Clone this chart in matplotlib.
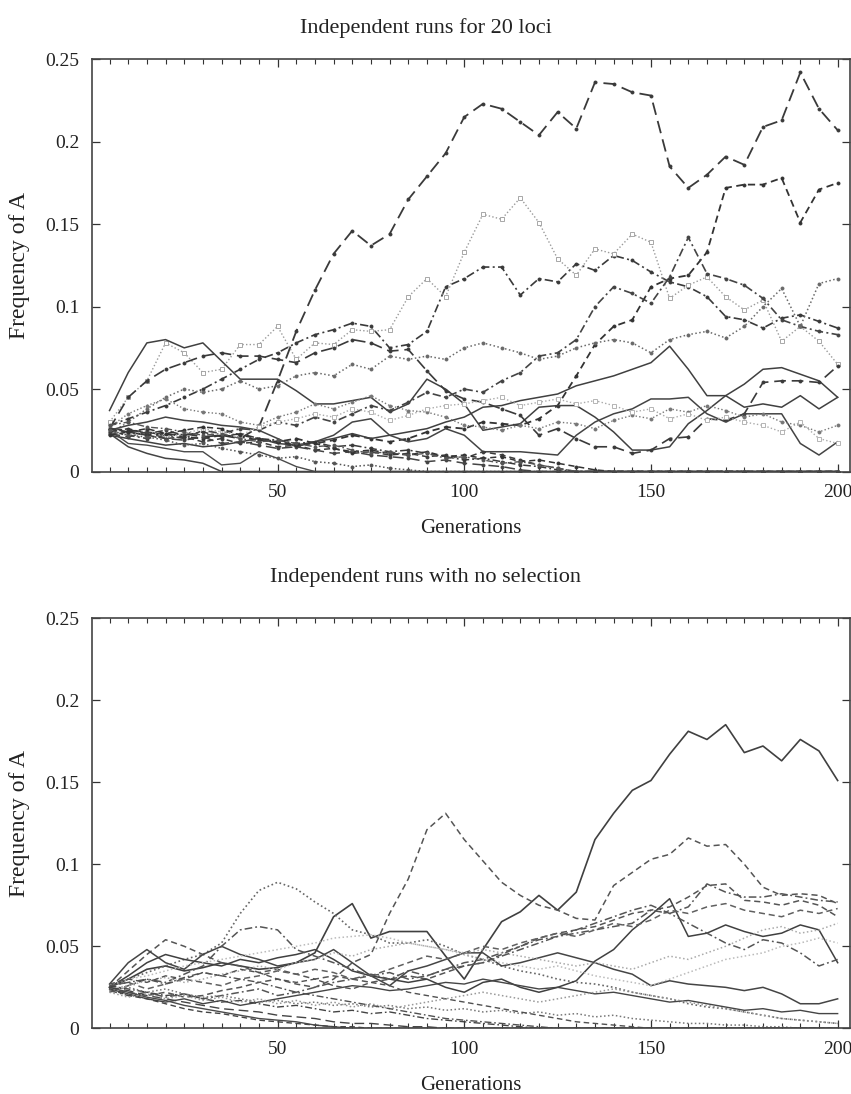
import matplotlib
matplotlib.use("Agg")
import matplotlib.pyplot as plt
from matplotlib.ticker import MultipleLocator, FixedLocator, FixedFormatter

plt.rcParams['font.family'] = ['Liberation Serif', 'DejaVu Serif']

generations = list(range(5, 205, 5))

# ---------------- top panel: Independent runs for 20 loci ----------------
top_A = [.026,.025,.024,.022,.023,.021,.022,.020,.027,.055,.085,.110,.132,.146,.137,.144,.165,.179,.193,.215,
         .223,.220,.212,.204,.218,.208,.236,.235,.230,.228,.185,.172,.180,.191,.186,.209,.213,.242,.220,.207]
top_B = [.025,.024,.022,.023,.021,.020,.022,.021,.019,.018,.020,.017,.019,.022,.020,.018,.020,.024,.027,.026,
         .030,.029,.028,.032,.040,.058,.077,.088,.092,.112,.117,.119,.133,.172,.174,.174,.178,.151,.171,.175]
top_C = [.028,.032,.036,.040,.045,.050,.056,.062,.068,.072,.078,.083,.086,.090,.088,.075,.077,.085,.112,.117,
         .124,.124,.107,.117,.115,.126,.122,.131,.128,.121,.115,.112,.106,.094,.092,.087,.093,.095,.091,.087]
top_D = [.030,.045,.055,.078,.072,.060,.062,.077,.077,.088,.068,.078,.077,.086,.085,.086,.106,.117,.106,.133,
         .156,.153,.166,.151,.129,.119,.135,.132,.144,.139,.105,.113,.118,.106,.098,.104,.079,.088,.079,.065]
top_E = [.037,.060,.078,.080,.075,.078,.067,.056,.056,.056,.049,.041,.041,.043,.045,.036,.041,.056,.050,.041,
         .025,.027,.029,.039,.040,.040,.033,.024,.013,.013,.015,.029,.037,.046,.053,.062,.063,.059,.055,.045]
top_F = [.024,.022,.020,.022,.020,.025,.023,.026,.025,.030,.028,.033,.030,.035,.040,.037,.042,.048,.045,.050,
         .048,.055,.060,.070,.072,.080,.100,.112,.108,.102,.118,.142,.120,.117,.113,.105,.092,.088,.085,.083]
top_G = [.023,.030,.038,.045,.050,.048,.050,.055,.050,.052,.058,.060,.058,.065,.062,.070,.068,.070,.068,.075,
         .078,.075,.072,.068,.070,.075,.078,.080,.078,.072,.080,.083,.085,.081,.088,.100,.111,.088,.114,.117]
top_H = [.026,.045,.055,.062,.066,.070,.072,.070,.070,.068,.066,.072,.075,.080,.078,.073,.074,.061,.049,.044,
         .042,.038,.034,.022,.026,.020,.015,.015,.011,.013,.020,.021,.032,.031,.035,.054,.055,.055,.054,.064]
top_I = [.022,.020,.018,.016,.017,.015,.016,.018,.020,.017,.016,.018,.020,.023,.020,.022,.024,.026,.030,.033,
         .039,.040,.043,.045,.047,.052,.055,.058,.062,.066,.076,.062,.046,.046,.039,.041,.039,.046,.038,.045]
top_J = [.025,.028,.030,.033,.031,.030,.028,.027,.025,.020,.015,.018,.022,.030,.032,.022,.018,.020,.026,.022,
         .012,.012,.012,.011,.010,.022,.030,.035,.038,.044,.044,.045,.035,.030,.035,.035,.035,.017,.010,.018]
top_K = [.023,.015,.011,.008,.007,.005,.000,.000,.000,.000,.000,.000,.000,.000,.000,.000,.000,.000,.000,.000,
         .000,.000,.000,.000,.000,.000,.000,.000,.000,.000,.000,.000,.000,.000,.000,.000,.000,.000,.000,.000]
top_L = [.025,.017,.016,.014,.012,.012,.004,.005,.012,.008,.003,.000,.000,.000,.000,.000,.000,.000,.000,.000,
         .000,.000,.000,.000,.000,.000,.000,.000,.000,.000,.000,.000,.000,.000,.000,.000,.000,.000,.000,.000]
top_M = [.027,.035,.040,.044,.038,.036,.035,.030,.028,.033,.036,.041,.038,.042,.046,.040,.037,.036,.033,.028,
         .027,.025,.028,.026,.030,.029,.026,.031,.034,.032,.038,.036,.040,.037,.033,.035,.030,.028,.024,.028]
top_N = [.024,.022,.025,.021,.023,.026,.024,.022,.027,.030,.032,.035,.033,.038,.036,.031,.034,.038,.040,.041,
         .043,.045,.040,.042,.044,.041,.043,.040,.036,.038,.032,.035,.031,.033,.030,.028,.024,.030,.020,.017]
top_O = [.026,.024,.022,.020,.021,.018,.020,.017,.018,.015,.016,.013,.014,.011,.012,.010,.011,.009,.010,.008,
         .012,.010,.007,.004,.002,.000,.000,.000,.000,.000,.000,.000,.000,.000,.000,.000,.000,.000,.000,.000]
top_P = [.024,.026,.023,.025,.022,.024,.021,.023,.020,.019,.017,.018,.015,.016,.014,.012,.013,.011,.009,.007,
         .008,.006,.004,.003,.001,.000,.000,.000,.000,.000,.000,.000,.000,.000,.000,.000,.000,.000,.000,.000]
top_Q = [.023,.021,.024,.020,.019,.021,.017,.018,.016,.014,.015,.013,.011,.012,.010,.009,.008,.006,.007,.005,
         .004,.003,.001,.000,.000,.000,.000,.000,.000,.000,.000,.000,.000,.000,.000,.000,.000,.000,.000,.000]
top_R = [.025,.022,.021,.019,.016,.017,.014,.012,.010,.008,.009,.006,.005,.003,.004,.002,.001,.000,.000,.000,
         .000,.000,.000,.000,.000,.000,.000,.000,.000,.000,.000,.000,.000,.000,.000,.000,.000,.000,.000,.000]
top_S = [.022,.024,.026,.023,.025,.027,.026,.022,.020,.018,.016,.017,.014,.012,.013,.011,.010,.012,.009,.010,
         .008,.009,.006,.007,.005,.003,.001,.000,.000,.000,.000,.000,.000,.000,.000,.000,.000,.000,.000,.000]
top_T = [.028,.030,.027,.026,.024,.022,.023,.020,.018,.019,.017,.015,.016,.013,.011,.012,.010,.011,.008,.009,
         .007,.005,.006,.004,.002,.000,.000,.000,.000,.000,.000,.000,.000,.000,.000,.000,.000,.000,.000,.000]

# ---------------- bottom panel: Independent runs with no selection ----------------
bot_P = [.025,.030,.036,.038,.035,.037,.040,.038,.036,.037,.040,.046,.068,.076,.055,.059,.059,.059,.044,.030,
         .048,.065,.071,.081,.072,.083,.115,.131,.145,.151,.167,.181,.176,.185,.168,.172,.163,.176,.169,.151]
bot_Q = [.024,.022,.020,.022,.019,.020,.023,.025,.028,.030,.027,.025,.030,.040,.045,.070,.091,.121,.131,.115,
         .102,.089,.081,.075,.072,.067,.066,.087,.095,.103,.106,.116,.111,.112,.100,.086,.081,.082,.081,.076]
bot_R = [.025,.030,.034,.038,.042,.045,.052,.070,.084,.089,.085,.077,.070,.060,.057,.052,.052,.054,.050,.045,
         .042,.038,.035,.033,.030,.028,.027,.025,.022,.020,.018,.015,.013,.012,.010,.008,.006,.005,.004,.003]
bot_S = [.025,.035,.045,.054,.050,.045,.040,.038,.034,.036,.033,.030,.032,.030,.028,.030,.032,.030,.034,.038,
         .040,.045,.050,.055,.058,.060,.062,.066,.070,.072,.074,.080,.087,.088,.078,.077,.075,.078,.075,.068]
bot_U = [.025,.032,.040,.045,.042,.040,.038,.042,.040,.043,.045,.048,.042,.035,.032,.030,.028,.030,.025,.022,
         .028,.030,.025,.022,.025,.029,.041,.048,.060,.069,.079,.056,.058,.063,.059,.056,.058,.063,.060,.040]
bot_V = [.027,.040,.048,.040,.036,.045,.050,.045,.042,.038,.040,.042,.048,.040,.032,.026,.035,.038,.042,.046,
         .046,.038,.040,.043,.046,.043,.040,.036,.033,.026,.029,.027,.026,.025,.023,.025,.021,.015,.015,.018]
bot_W = [.022,.026,.030,.028,.033,.038,.050,.060,.062,.060,.048,.044,.040,.036,.032,.034,.030,.032,.036,.040,
         .042,.046,.050,.054,.056,.058,.060,.062,.064,.072,.070,.074,.088,.083,.080,.080,.082,.080,.078,.077]
bot_X = [.026,.028,.024,.027,.030,.028,.026,.030,.032,.035,.033,.036,.034,.030,.032,.036,.040,.044,.042,.046,
         .050,.048,.052,.055,.058,.056,.060,.064,.062,.066,.072,.070,.074,.076,.072,.070,.068,.072,.070,.073]
bot_Y = [.024,.026,.029,.031,.028,.030,.033,.035,.038,.036,.040,.042,.046,.044,.048,.050,.052,.050,.048,.046,
         .048,.046,.044,.042,.040,.038,.040,.038,.036,.040,.044,.042,.046,.050,.055,.060,.062,.058,.060,.064]
bot_Z = [.023,.020,.022,.019,.021,.018,.020,.022,.024,.020,.022,.025,.028,.030,.033,.030,.035,.032,.036,.038,
         .040,.044,.048,.052,.056,.060,.064,.068,.072,.075,.070,.064,.058,.052,.048,.054,.052,.046,.038,.042]
bot_AA = [.026,.030,.032,.035,.038,.040,.042,.044,.046,.048,.050,.052,.055,.056,.057,.055,.052,.050,.048,.045,
          .042,.040,.038,.036,.038,.035,.032,.030,.028,.026,.030,.034,.038,.042,.044,.046,.050,.052,.055,.052]
bot_AB = [.024,.021,.018,.016,.018,.015,.017,.014,.016,.018,.020,.022,.024,.026,.025,.023,.024,.026,.028,.027,
          .030,.028,.026,.024,.025,.023,.021,.022,.020,.018,.016,.017,.015,.013,.011,.012,.010,.011,.009,.009]
bot_AC = [.025,.022,.019,.017,.014,.012,.010,.008,.006,.005,.004,.002,.001,.000,.000,.000,.000,.000,.000,.000,
          .000,.000,.000,.000,.000,.000,.000,.000,.000,.000,.000,.000,.000,.000,.000,.000,.000,.000,.000,.000]
bot_AD = [.024,.020,.018,.015,.012,.010,.009,.007,.005,.004,.003,.002,.001,.001,.000,.000,.000,.000,.000,.000,
          .000,.000,.000,.000,.000,.000,.000,.000,.000,.000,.000,.000,.000,.000,.000,.000,.000,.000,.000,.000]
bot_AE = [.026,.024,.022,.020,.021,.018,.016,.017,.015,.013,.014,.012,.010,.011,.009,.010,.008,.006,.005,.004,
          .003,.002,.001,.000,.000,.000,.000,.000,.000,.000,.000,.000,.000,.000,.000,.000,.000,.000,.000,.000]
bot_AF = [.023,.025,.022,.024,.021,.019,.020,.018,.016,.017,.015,.016,.014,.015,.013,.014,.012,.013,.011,.012,
          .010,.011,.009,.010,.008,.009,.007,.008,.006,.005,.004,.003,.003,.002,.002,.001,.001,.000,.000,.000]
bot_AG = [.025,.023,.020,.018,.016,.014,.012,.011,.010,.008,.007,.006,.004,.003,.003,.002,.001,.001,.000,.000,
          .000,.000,.000,.000,.000,.000,.000,.000,.000,.000,.000,.000,.000,.000,.000,.000,.000,.000,.000,.000]
bot_AH = [.027,.030,.028,.032,.030,.034,.032,.036,.034,.030,.028,.030,.026,.024,.028,.026,.022,.020,.018,.016,
          .014,.012,.010,.008,.006,.004,.003,.002,.001,.000,.000,.000,.000,.000,.000,.000,.000,.000,.000,.000]
bot_AI = [.022,.019,.021,.018,.020,.017,.019,.016,.018,.015,.017,.014,.016,.013,.015,.012,.014,.016,.018,.020,
          .022,.020,.018,.016,.018,.020,.022,.024,.022,.020,.018,.016,.014,.012,.010,.008,.006,.005,.004,.003]
bot_AJ = [.026,.028,.030,.027,.031,.034,.032,.030,.028,.025,.022,.020,.018,.016,.014,.012,.010,.008,.006,.005,
          .004,.003,.002,.001,.000,.000,.000,.000,.000,.000,.000,.000,.000,.000,.000,.000,.000,.000,.000,.000]

top_series = [top_A, top_B, top_C, top_D, top_E, top_F, top_G, top_H, top_I, top_J,
              top_K, top_L, top_M, top_N, top_O, top_P, top_Q, top_R, top_S, top_T]
bot_series = [bot_P, bot_Q, bot_R, bot_S, bot_U, bot_V, bot_W, bot_X, bot_Y, bot_Z,
              bot_AA, bot_AB, bot_AC, bot_AD, bot_AE, bot_AF, bot_AG, bot_AH, bot_AI, bot_AJ]

panel_titles = ["Independent runs for 20 loci", "Independent runs with no selection"]
x_label = "Generations"
y_label = "Frequency of A"
x_ticks = [50, 100, 150, 200]
y_ticks = [0, 0.05, 0.1, 0.15, 0.2, 0.25]
y_ticklabels = ["0", "0.05", "0.1", "0.15", "0.2", "0.25"]

# style cycles
LONG = (0, (7, 3.5))
DASH = (0, (4, 2.5))
DADOT = (0, (5, 2, 1.2, 2))
DOT = (0, (1, 1.6))
top_styles = [
    (LONG, '#3a3a3a', 'o', 1.3), (DASH, '#333333', 'o', 1.3), (DADOT, '#3a3a3a', 'o', 1.2),
    (DOT, '#9a9a9a', 's', 1.0), ('-', '#404040', None, 1.1), (DADOT, '#444444', 'o', 1.2),
    (DOT, '#6a6a6a', 'o', 1.1), (LONG, '#3a3a3a', 'o', 1.2), ('-', '#404040', None, 1.1),
    ('-', '#444444', None, 1.1), ('-', '#444444', None, 1.1), ('-', '#4a4a4a', None, 1.0),
    (DOT, '#777777', 'o', 1.0), (DOT, '#aaaaaa', 's', 1.0), (DASH, '#3c3c3c', 'o', 1.1),
    (DADOT, '#3a3a3a', 'o', 1.1), (LONG, '#444444', 'o', 1.1), (DOT, '#555555', 'o', 1.1),
    (DASH, '#333333', 'o', 1.1), (DADOT, '#555555', 'o', 1.0)]
bot_styles = [
    ('-', '#404040', None, 1.2), (DASH, '#555555', None, 1.1), (DOT, '#666666', None, 1.2),
    (DASH, '#555555', None, 1.1), ('-', '#404040', None, 1.1), ('-', '#454545', None, 1.1),
    (DADOT, '#555555', None, 1.1), (DASH, '#606060', None, 1.1), (DOT, '#aaaaaa', None, 1.1),
    (DADOT, '#555555', None, 1.1), (DOT, '#bbbbbb', None, 1.1), ('-', '#454545', None, 1.0),
    ('-', '#4a4a4a', None, 1.0), (DASH, '#444444', None, 1.0), (DADOT, '#444444', None, 1.0),
    (DOT, '#777777', None, 1.1), (LONG, '#444444', None, 1.0), (DASH, '#505050', None, 1.0),
    (DOT, '#999999', None, 1.1), (DADOT, '#505050', None, 1.0)]

fig = plt.figure(figsize=(8.51, 10.94), dpi=100)
ax_top = fig.add_axes([0.1081, 0.5690, 0.8907, 0.3768])
ax_bot = fig.add_axes([0.1081, 0.0600, 0.8907, 0.3751])

def draw(ax, series, styles):
    for vals, (ls, col, mk, lw) in zip(series, styles):
        kw = {}
        if mk is not None:
            kw = dict(marker=mk, markersize=2.2, markerfacecolor=col if mk == 'o' else 'white',
                      markeredgecolor=col, markeredgewidth=0.6)
        ax.plot(generations, vals, linestyle=ls, color=col, linewidth=lw, **kw)
    ax.set_xlim(0.3, 203.3)
    ax.set_ylim(0, 0.25)
    ax.xaxis.set_major_locator(FixedLocator(x_ticks))
    ax.xaxis.set_minor_locator(MultipleLocator(5))
    ax.yaxis.set_major_locator(FixedLocator(y_ticks))
    ax.yaxis.set_major_formatter(FixedFormatter(y_ticklabels))
    ax.tick_params(which='both', direction='in', top=True, right=True, colors='#333333',
                   labelsize=14, labelcolor='#222222')
    ax.tick_params(which='major', length=6, width=0.9, pad=9)
    ax.tick_params(which='minor', length=3.5, width=0.8)
    for sp in ax.spines.values():
        sp.set_color('#444444')
        sp.set_linewidth(1.2)
    ax.set_xlabel(x_label, fontsize=15, color='#222222', labelpad=13)
    ax.set_ylabel(y_label, fontsize=17, color='#222222', labelpad=11)

draw(ax_top, top_series, top_styles)
draw(ax_bot, bot_series, bot_styles)

fig.text(0.5, 0.974, panel_titles[0], ha='center', va='center', fontsize=16, color='#222222')
fig.text(0.5, 0.4717, panel_titles[1], ha='center', va='center', fontsize=16, color='#222222')

fig.savefig("out.png", dpi=100)
